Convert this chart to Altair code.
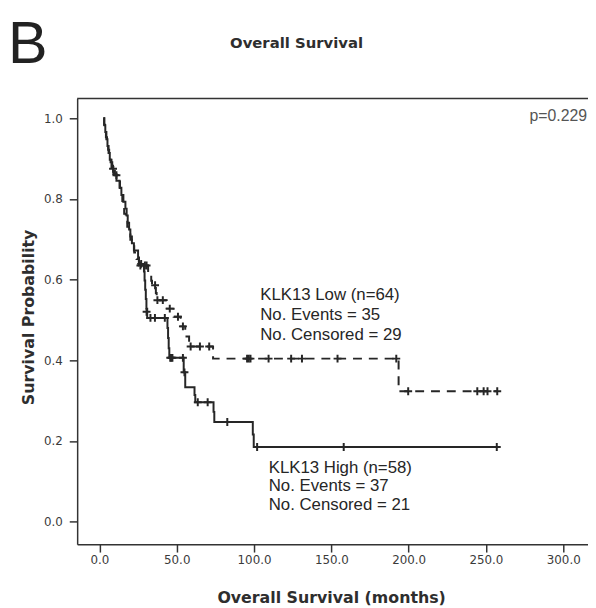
import altair as alt
import pandas as pd

# ---- KLK13 High (solid) : step points (months, survival) ----
high_t = [2.5, 3.2, 3.8, 4.5, 5.2, 5.9, 6.7, 7.8, 9.0, 11.0, 13.0, 14.2, 15.5, 16.8,
          17.6, 18.3, 19.2, 20.0, 21.0, 22.3, 25.0, 25.6, 28.8, 29.2, 29.6, 30.0,
          30.4, 30.9, 44.0, 44.4, 44.8, 45.2, 54.5, 55.5, 61.5, 62.0, 73.8, 74.3,
          99.2, 99.8, 257.0]
high_s = [1.0, 0.983, 0.966, 0.948, 0.931, 0.914, 0.897, 0.879, 0.862, 0.845, 0.828,
          0.81, 0.793, 0.776, 0.759, 0.741, 0.724, 0.707, 0.69, 0.672, 0.655, 0.639,
          0.62, 0.598, 0.575, 0.552, 0.528, 0.505, 0.48, 0.455, 0.43, 0.406, 0.37,
          0.333, 0.314, 0.296, 0.272, 0.247, 0.216, 0.185, 0.185]
high_cens_t = [27.0, 30.5, 33.0, 35.9, 42.3, 45.8, 46.5, 47.2, 54.0, 55.0, 63.6, 70.0,
               82.7, 102.0, 158.0, 257.0]
high_cens_s = [0.639, 0.52, 0.505, 0.505, 0.505, 0.406, 0.406, 0.406, 0.406, 0.37,
               0.296, 0.296, 0.247, 0.185, 0.185, 0.185]

# ---- KLK13 Low (dashed) ----
low_t = [2.5, 3.0, 3.6, 4.2, 4.9, 5.6, 6.3, 7.2, 8.3, 10.0, 12.0, 13.3, 14.8, 15.3,
         16.0, 17.0, 18.0, 19.0, 20.0, 21.0, 22.5, 24.0, 25.5, 31.5, 33.5, 34.0,
         36.5, 37.0, 43.5, 48.0, 52.5, 55.5, 58.0, 73.5, 193.5, 257.3]
low_s = [1.0, 0.984, 0.969, 0.953, 0.938, 0.922, 0.906, 0.891, 0.875, 0.859, 0.843,
         0.827, 0.795, 0.779, 0.763, 0.747, 0.731, 0.715, 0.699, 0.683, 0.667, 0.651,
         0.635, 0.616, 0.597, 0.586, 0.567, 0.549, 0.528, 0.508, 0.484, 0.459, 0.434,
         0.404, 0.323, 0.323]
low_cens_t = [8.8, 11.0, 26.5, 29.4, 30.5, 36.0, 37.5, 41.0, 45.5, 50.8, 54.0, 59.0,
              65.0, 71.0, 95.5, 96.6, 97.7, 109.4, 124.0, 131.0, 154.0, 192.0, 199.7,
              244.4, 248.5, 251.0, 257.3]
low_cens_s = [0.875, 0.859, 0.635, 0.635, 0.635, 0.586, 0.549, 0.549, 0.528, 0.508,
              0.484, 0.434, 0.434, 0.434, 0.404, 0.404, 0.404, 0.404, 0.404, 0.404,
              0.404, 0.404, 0.323, 0.323, 0.323, 0.323, 0.323]

x_ticks = [0, 50, 100, 150, 200, 250, 300]
y_ticks = [0.0, 0.2, 0.4, 0.6, 0.8, 1.0]

low_lines = ["KLK13 Low (n=64)", "No. Events = 35", "No. Censored = 29"]
low_lines_y = [0.561, 0.512, 0.463]
low_lines_x = [104.0, 104.0, 104.0]
high_lines = ["KLK13 High (n=58)", "No. Events = 37", "No. Censored = 21"]
high_lines_y = [0.132, 0.088, 0.042]
high_lines_x = [109.5, 109.5, 109.5]

W, H = 517, 451
INK = "#262626"

xs = alt.Scale(domain=[-14.4, 316], nice=False, zero=False)
ys = alt.Scale(domain=[-0.056, 1.049], nice=False, zero=False)

xaxis = alt.Axis(values=x_ticks, format=".1f", tickSize=8, labelPadding=3,
                 labelFont="DejaVu Sans", labelFontSize=12, labelColor="#3a3a3a",
                 domainColor="#333", domainWidth=1.5, tickColor="#333", tickWidth=1.5,
                 grid=False, labelFlush=False,
                 title="Overall Survival (months)", titleFont="DejaVu Sans",
                 titleFontSize=16, titleFontWeight="bold", titleColor="#2e2e2e",
                 titleX=257, titleY=54, titleBaseline="middle", titleAlign="center")
yaxis = alt.Axis(values=y_ticks, format=".1f", tickSize=8, labelPadding=7,
                 labelFont="DejaVu Sans", labelFontSize=12, labelColor="#3a3a3a",
                 domainColor="#333", domainWidth=1.5, tickColor="#333", tickWidth=1.5,
                 grid=False, labelFlush=False,
                 title="Survival Probability", titleFont="DejaVu Sans",
                 titleFontSize=16, titleFontWeight="bold", titleColor="#2e2e2e",
                 titleX=-49, titleY=221, titleBaseline="middle", titleAlign="center",
                 titleAngle=-90)

high_df = pd.DataFrame({"t": high_t, "s": high_s})
low_df = pd.DataFrame({"t": low_t, "s": low_s})
hc_df = pd.DataFrame({"t": high_cens_t, "s": high_cens_s})
lc_df = pd.DataFrame({"t": low_cens_t, "s": low_cens_s})

X = alt.X("t:Q", scale=xs, axis=xaxis)
Y = alt.Y("s:Q", scale=ys, axis=yaxis)

high_line = alt.Chart(high_df).mark_line(interpolate="step-after", color=INK,
                                          strokeWidth=2).encode(x=X, y=Y)
low_line = alt.Chart(low_df).mark_line(interpolate="step-after", color=INK,
                                        strokeWidth=2, strokeDash=[9, 7]).encode(x=X, y=Y)
plus = "M-1,0L1,0M0,-1L0,1"
high_c = alt.Chart(hc_df).mark_point(shape=plus, size=64, color=INK, strokeWidth=2,
                                      filled=False, opacity=1).encode(x=X, y=Y)
low_c = alt.Chart(lc_df).mark_point(shape=plus, size=64, color=INK, strokeWidth=2,
                                     filled=False, opacity=1).encode(x=X, y=Y)

ann_df = pd.DataFrame({"label": low_lines + high_lines,
                       "t": low_lines_x + high_lines_x,
                       "s": low_lines_y + high_lines_y})
ann = alt.Chart(ann_df).mark_text(align="left", baseline="middle", font="Liberation Sans",
                                  fontSize=17, color="#262626").encode(
    x=alt.X("t:Q", scale=xs, axis=xaxis), y=alt.Y("s:Q", scale=ys, axis=yaxis),
    text="label:N")

one = pd.DataFrame({"a": [0]})
top_rule = alt.Chart(one).mark_rule(color="#333", strokeWidth=1.5).encode(
    x=alt.value(0), x2=alt.value(W), y=alt.value(0))
pval = alt.Chart(one).mark_text(align="right", baseline="middle", font="Liberation Sans",
                                fontSize=16, color="#555").encode(
    x=alt.value(516), y=alt.value(18), text=alt.value("p=0.229"))
title = alt.Chart(one).mark_text(align="center", baseline="middle", font="DejaVu Sans",
                                 fontSize=15, fontWeight="bold", color="#2e2e2e").encode(
    x=alt.value(222), y=alt.value(-56), text=alt.value("Overall Survival"))
panel = alt.Chart(one).mark_text(align="left", baseline="alphabetic", font="Liberation Sans",
                                 fontSize=60, color="#222").encode(
    x=alt.value(-70), y=alt.value(-36), text=alt.value("B"))

chart = alt.layer(high_line, low_line, high_c, low_c, ann, top_rule, pval, title, panel).properties(
    width=W, height=H,
    autosize=alt.AutoSizeParams(type="none"),
    padding={"left": 70, "top": 88, "right": 0, "bottom": 60},
    background="white",
).configure_view(stroke="transparent")

chart.save("out.html", embed_options={"renderer": "svg", "actions": False})
